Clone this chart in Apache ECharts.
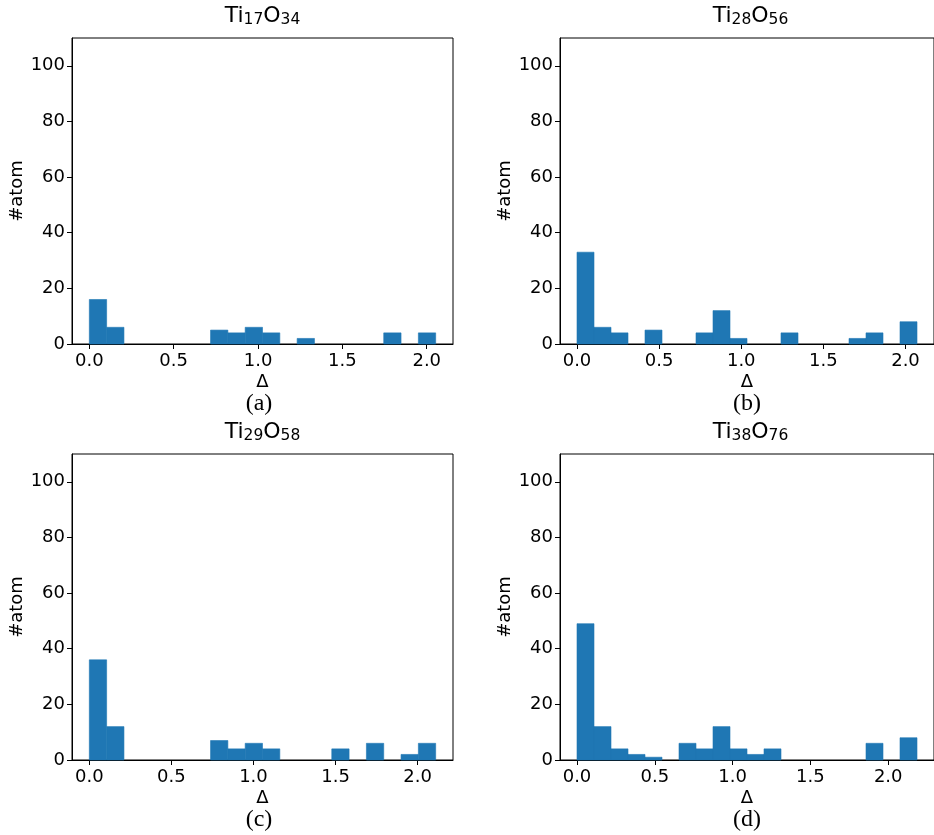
<!DOCTYPE html>
<html>
<head>
<meta charset="utf-8">
<script src="https://cdn.jsdelivr.net/npm/echarts@6/dist/echarts.min.js"></script>
<style>
  html, body { margin: 0; padding: 0; background: #fff; }
  #chart { width: 934px; height: 835px; }
</style>
</head>
<body>
<div id="chart"></div>
<script>
// Histograms of per-atom Δ for four TiO2 clusters, 20 bins each.
const binCount = 20;
const panelNames = ['a', 'b', 'c', 'd'];
const titleParts = [['17', '34'], ['28', '56'], ['29', '58'], ['38', '76']];
// upper edge of the last bin (largest Δ in each cluster)
const deltaMax = [2.053, 2.07, 2.11, 2.185];
// atom counts per bin
const countsA = [16, 6, 0, 0, 0, 0, 0, 5, 4, 6, 4, 0, 2, 0, 0, 0, 0, 4, 0, 4];
const countsB = [33, 6, 4, 0, 5, 0, 0, 4, 12, 2, 0, 0, 4, 0, 0, 0, 2, 4, 0, 8];
const countsC = [36, 12, 0, 0, 0, 0, 0, 7, 4, 6, 4, 0, 0, 0, 4, 0, 6, 0, 2, 6];
const countsD = [49, 12, 4, 2, 1, 0, 6, 4, 12, 4, 2, 4, 0, 0, 0, 0, 0, 6, 0, 8];
const allCounts = [countsA, countsB, countsC, countsD];
const xTicks = [0, 0.5, 1.0, 1.5, 2.0];
const yTicks = [0, 20, 40, 60, 80, 100];
const yMax = 110;

const FONT = 'DejaVu Sans';
const BAR = '#1f77b4';

const grids = [
  { left: 72, top: 38, width: 381, height: 306 },
  { left: 560, top: 38, width: 381, height: 306 },
  { left: 72, top: 454, width: 381, height: 306 },
  { left: 560, top: 454, width: 381, height: 306 }
];

const option = {
  animation: false,
  backgroundColor: '#fff',
  grid: grids.map(g => Object.assign({ show: true, borderColor: '#000', borderWidth: 1, backgroundColor: 'transparent' }, g)),
  xAxis: [],
  yAxis: [],
  series: [],
  graphic: []
};

allCounts.forEach((counts, k) => {
  const m = deltaMax[k];
  const w = m / binCount;
  option.xAxis.push({
    type: 'value', gridIndex: k,
    min: -0.05 * m, max: 1.05 * m,
    splitLine: { show: false },
    axisLine: { show: true, onZero: false, lineStyle: { color: '#000', width: 1 } },
    axisTick: { show: true, inside: false, length: 5, lineStyle: { color: '#000', width: 1 }, customValues: xTicks },
    axisLabel: { customValues: xTicks, formatter: v => v.toFixed(1), color: '#000', fontFamily: FONT, fontSize: 18, margin: 8 },
    name: 'Δ', nameLocation: 'middle', nameGap: 29,
    nameTextStyle: { color: '#000', fontFamily: FONT, fontSize: 18 }
  });
  option.yAxis.push({
    type: 'value', gridIndex: k,
    min: 0, max: yMax,
    splitLine: { show: false },
    axisLine: { show: true, onZero: false, lineStyle: { color: '#000', width: 1 } },
    axisTick: { show: true, inside: false, length: 5, lineStyle: { color: '#000', width: 1 }, customValues: yTicks },
    axisLabel: { customValues: yTicks, color: '#000', fontFamily: FONT, fontSize: 18, margin: 7 },
    name: '#atom', nameLocation: 'middle', nameGap: 45,
    nameTextStyle: { color: '#000', fontFamily: FONT, fontSize: 18 }
  });
  const data = [];
  counts.forEach((c, i) => { if (c > 0) data.push([i * w, (i + 1) * w, c]); });
  option.series.push({
    type: 'custom', xAxisIndex: k, yAxisIndex: k,
    encode: { x: [0, 1], y: 2 },
    data: data,
    renderItem: (params, api) => {
      const p0 = api.coord([api.value(0), api.value(2)]);
      const p1 = api.coord([api.value(1), 0]);
      return {
        type: 'rect',
        shape: { x: p0[0], y: p0[1], width: p1[0] - p0[0], height: p1[1] - p0[1] },
        style: { fill: BAR, stroke: BAR, lineWidth: 0.6 }
      };
    }
  });
  const g = grids[k];
  const cx = g.left + 190.5;
  // panel title with subscripts
  option.graphic.push({
    type: 'text', x: cx, y: g.top - 22,
    style: {
      text: '{m|Ti}{s|' + titleParts[k][0] + '}{m|O}{s|' + titleParts[k][1] + '}',
      align: 'center', verticalAlign: 'middle',
      rich: {
        m: { fontFamily: FONT, fontSize: 22, fill: '#000', lineHeight: 24, verticalAlign: 'middle' },
        s: { fontFamily: FONT, fontSize: 15.5, fill: '#000', lineHeight: 10, verticalAlign: 'bottom' }
      }
    }
  });
  // panel letter
  option.graphic.push({
    type: 'text', x: g.left + 187, y: g.top + g.height + 60,
    style: { text: '(' + panelNames[k] + ')', align: 'center', verticalAlign: 'middle', fontFamily: 'Liberation Serif', fontSize: 24, fill: '#000' }
  });
});

const chart = echarts.init(document.getElementById('chart'), null, { renderer: 'canvas' });
chart.setOption(option);
</script>
</body>
</html>
